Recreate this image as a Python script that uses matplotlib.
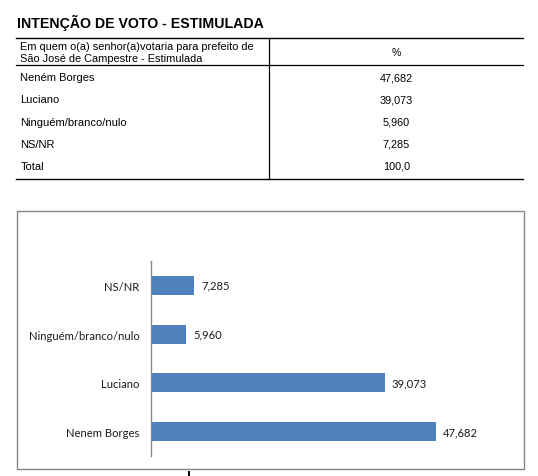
import matplotlib

matplotlib.use("Agg")
import matplotlib.pyplot as plt
from matplotlib.lines import Line2D
from matplotlib.patches import Rectangle

W, H = 538, 477

title = "INTENÇÃO DE VOTO - ESTIMULADA"
header_question = ["Em quem o(a) senhor(a)votaria para prefeito de",
                   "São José de Campestre - Estimulada"]
header_value = "%"
table_rows = ["Neném Borges", "Luciano", "Ninguém/branco/nulo", "NS/NR", "Total"]
table_values = ["47,682", "39,073", "5,960", "7,285", "100,0"]

bar_labels = ["Nenem Borges", "Luciano", "Ninguém/branco/nulo", "NS/NR"]
bar_values = [47.682, 39.073, 5.960, 7.285]

BLUE = "#4F81BD"
GREY = "#868686"


def fx(x):
    return x / W


def fy(y):
    return 1 - y / H


def hline(fig, y, x0, x1, **kw):
    fig.add_artist(Line2D([fx(x0), fx(x1)], [fy(y), fy(y)], transform=fig.transFigure, **kw))


def vline(fig, x, y0, y1, **kw):
    fig.add_artist(Line2D([fx(x), fx(x)], [fy(y0), fy(y1)], transform=fig.transFigure, **kw))


fig = plt.figure(figsize=(W / 100, H / 100), dpi=100)

# --- table part ---
fig.text(fx(17), fy(23), title, family="Liberation Sans", weight="bold",
         size=10.2, va="center", ha="left")

hline(fig, 39.3, 16, 523, color="black", linewidth=1.0)
hline(fig, 66.3, 16, 523, color="black", linewidth=0.9)
hline(fig, 180, 16, 523, color="black", linewidth=1.0)
vline(fig, 268.5, 39.3, 180, color="black", linewidth=0.9)

for k, line in enumerate(header_question):
    fig.text(fx(20.5), fy(47.5 + 12 * k), line, family="Liberation Sans", size=7.9,
             va="center", ha="left")
fig.text(fx(396), fy(53.5), header_value, family="Liberation Sans", size=7.6,
         va="center", ha="center")

for i, (name, val) in enumerate(zip(table_rows, table_values)):
    y = 78.3 + i * 22.1
    fig.text(fx(20.5), fy(y), name, family="Liberation Sans", size=8.0,
             va="center", ha="left")
    fig.text(fx(396.5), fy(y), val, family="Liberation Sans", size=7.8,
             va="center", ha="center")

# --- chart part ---
fig.add_artist(Rectangle((fx(17.3), fy(470)), fx(524.3) - fx(17.3), fy(212.3) - fy(470),
                         transform=fig.transFigure, fill=False, edgecolor=GREY, linewidth=1.0))
vline(fig, 189, 473, 477, color="black", linewidth=1.4)

ax = fig.add_axes([fx(150.5), fy(457), fx(510) - fx(150.5), fy(262) - fy(457)])
ypos = list(range(len(bar_values)))
bars = ax.barh(ypos, bar_values, height=0.39, color=BLUE)
ax.set_xlim(0, 60)
ax.set_ylim(-0.5, len(bar_values) - 0.5)
ax.set_yticks(ypos, bar_labels, family="Lato", size=8.1, color="#1a1a1a")
ax.set_xticks([])
ax.tick_params(axis="y", length=0, pad=8)
for s in ["top", "right", "bottom"]:
    ax.spines[s].set_visible(False)
ax.spines["left"].set_color(GREY)
ax.spines["left"].set_linewidth(1.0)
ax.patch.set_alpha(0)

for rect, v in zip(bars, bar_values):
    ax.annotate(f"{v:.3f}".replace(".", ","),
                (rect.get_width(), rect.get_y() + rect.get_height() / 2),
                xytext=(7, 0), textcoords="offset pixels", va="center", ha="left",
                family="Lato", size=8.1, color="#1a1a1a")

fig.savefig("out.png", dpi=100)
